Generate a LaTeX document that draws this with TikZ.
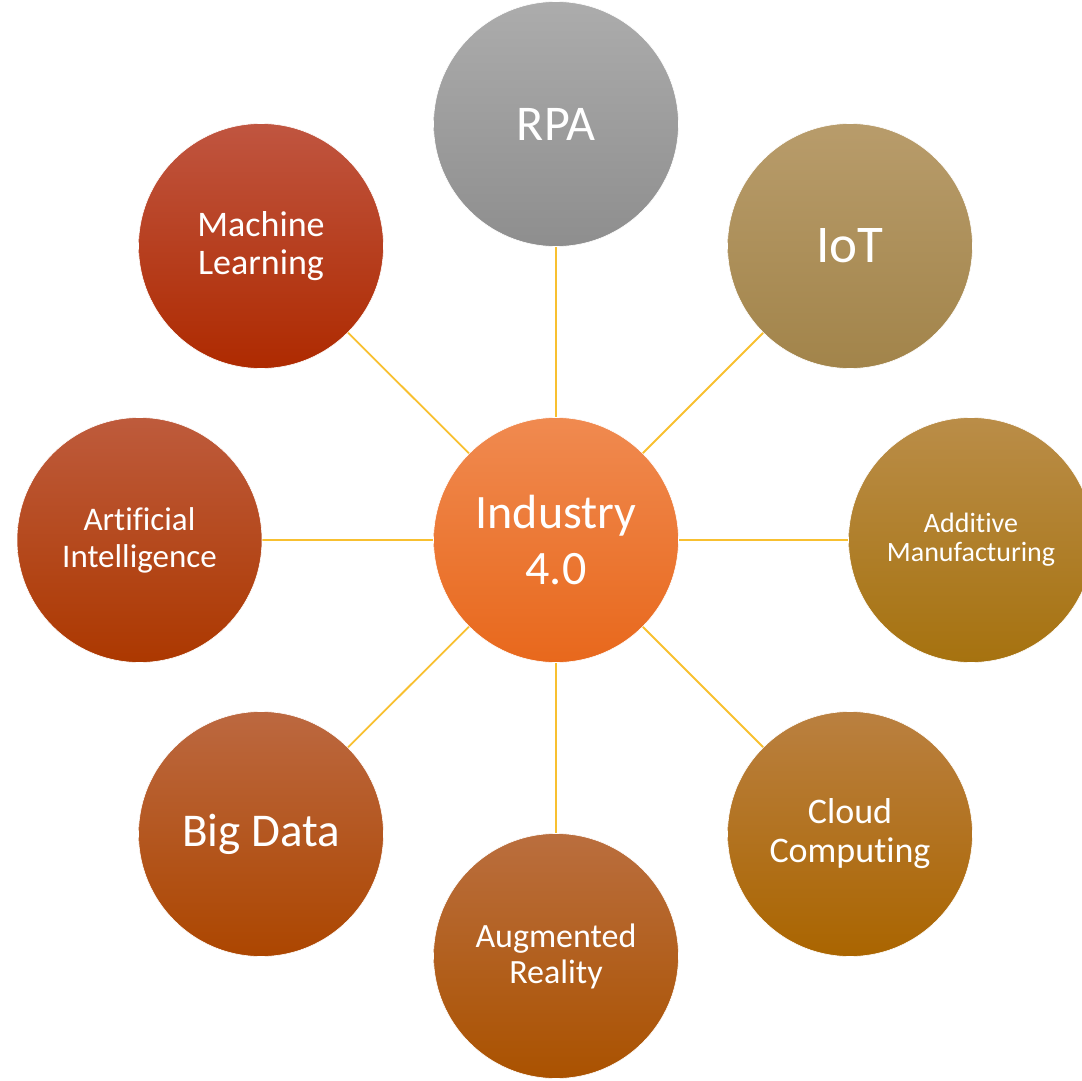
\documentclass[tikz,border=0pt]{standalone}
\usepackage{fontspec}
\setmainfont{Carlito}[Ligatures={NoCommon,NoContextual}]
\usetikzlibrary{backgrounds}
\begin{document}
\begin{tikzpicture}[x=1pt,y=-1pt,
  bub/.style={circle, minimum size=245pt, inner sep=0pt, align=center,
    text=white, draw=white, line width=0.6pt},
  link/.style={draw={rgb,255:red,248;green,192;blue,48}, line width=1.8pt},
  fs/.style args={#1/#2}{font=\fontsize{#1}{#2}\selectfont}
]
\useasboundingbox (0,0) rectangle (1082,1081);
\clip (0,0) rectangle (1082,1081);
\definecolor{cT}{HTML}{F08A50}\definecolor{cM}{HTML}{F07B2C}\definecolor{cB}{HTML}{E8681C}
\definecolor{rT}{HTML}{ACACAC}\definecolor{rM}{HTML}{A0A0A0}\definecolor{rB}{HTML}{8E8E8E}
\definecolor{iT}{HTML}{B89C6B}\definecolor{iM}{HTML}{AF9356}\definecolor{iB}{HTML}{A2844A}
\definecolor{aT}{HTML}{BA8D48}\definecolor{aM}{HTML}{B2801E}\definecolor{aB}{HTML}{A6720F}
\definecolor{kT}{HTML}{BA8040}\definecolor{kM}{HTML}{B36F0A}\definecolor{kB}{HTML}{AA6500}
\definecolor{gT}{HTML}{BA6E3E}\definecolor{gM}{HTML}{B25A08}\definecolor{gB}{HTML}{AA5200}
\definecolor{bT}{HTML}{BC6840}\definecolor{bM}{HTML}{B44E0A}\definecolor{bB}{HTML}{AC4600}
\definecolor{xT}{HTML}{BE5B3C}\definecolor{xM}{HTML}{B53D08}\definecolor{xB}{HTML}{AC3800}
\definecolor{mT}{HTML}{C05540}\definecolor{mM}{HTML}{B83408}\definecolor{mB}{HTML}{AE2A00}

\node[bub, top color=cT, middle color=cM, bottom color=cB, fs=48/56] (ind) at (556,540) {Industry\\4.0};
\node[bub, top color=rT, middle color=rM, bottom color=rB, fs=50/58] (rpa) at (556,124) {RPA};
\node[bub, top color=iT, middle color=iM, bottom color=iB, fs=53/60] (iot) at (850,246) {IoT};
\node[bub, top color=aT, middle color=aM, bottom color=aB, fs=28/29] (add) at (971,540) {Addi\kern0pt t\kern0pt ive\\Manufacturing};
\node[bub, top color=kT, middle color=kM, bottom color=kB, fs=36/39] (cld) at (850,834) {Cloud\\Computing};
\node[bub, top color=gT, middle color=gM, bottom color=gB, fs=34/36] (aug) at (556,956) {Augmented\\Reality};
\node[bub, top color=bT, middle color=bM, bottom color=bB, fs=47/50] (big) at (261,834) {Big Data};
\node[bub, top color=xT, middle color=xM, bottom color=xB, fs=33/37] (ai) at (139.5,540) {Ar\kern0pt t\kern0pt i\kern0pt f\kern0pt i\kern0pt cial\\Intelligence};
\node[bub, top color=mT, middle color=mM, bottom color=mB, fs=36/38] (ml) at (261,246) {Machine\\Learning};

\begin{scope}[on background layer]
\foreach \n in {rpa,iot,add,cld,aug,big,ai,ml}{
  \path[link] (ind.center) -- (\n.center);
}
\end{scope}
\end{tikzpicture}
\end{document}
